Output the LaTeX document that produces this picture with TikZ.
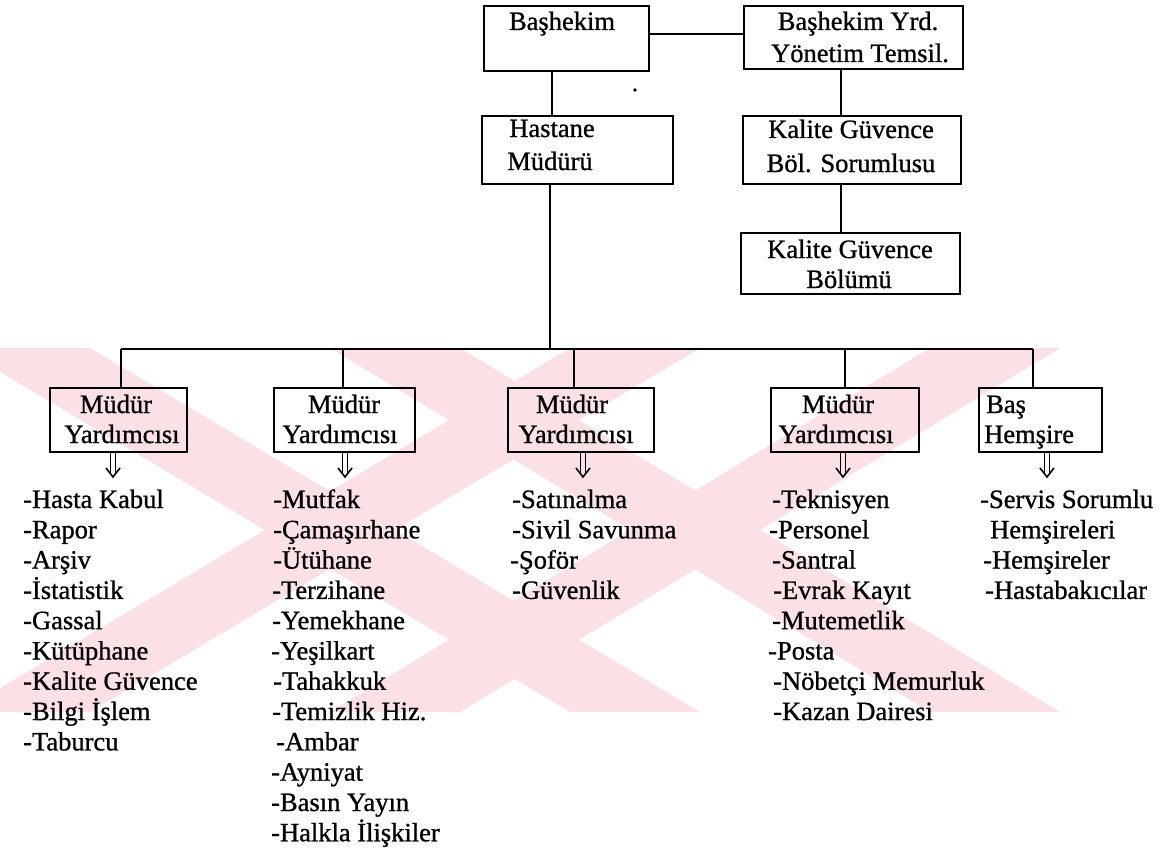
\documentclass[tikz,border=0pt]{standalone}
\usepackage{fontspec}
\setmainfont{Liberation Serif}[FakeBold=0.9]
\definecolor{wmpink}{HTML}{FBE1E5}
\begin{document}
\begin{tikzpicture}[x=1pt,y=-1pt,
  every node/.style={font=\fontsize{26.5}{30}\selectfont, inner sep=0pt},
  box/.style={draw, line width=1.7pt, anchor=north west},
  txt/.style={anchor=base},
  item/.style={anchor=base west},
  link/.style={line width=1.7pt},
  dnarrow/.pic={
    \draw[line width=1.6pt] (-2.6,-12) -- (-2.6,7.5) (2.6,-12) -- (2.6,7.5);
    \draw[line width=1.6pt, line join=miter] (-7,3) -- (0,12) -- (7,3);
  }]
\useasboundingbox (0,0) rectangle (1169,856);

% faint background marks
\begin{scope}
\clip (0,348) rectangle (1169,712);
\fill[wmpink] (-40,348) -- (90,348) -- (700,712) -- (570,712) -- cycle;
\fill[wmpink] (570,348) -- (700,348) -- (90,712) -- (-40,712) -- cycle;
\fill[wmpink] (330,348) -- (460,348) -- (1060,712) -- (930,712) -- cycle;
\fill[wmpink] (930,348) -- (1060,348) -- (460,712) -- (330,712) -- cycle;
\end{scope}

% top management boxes
\node[box, minimum width=165, minimum height=65] (bas) at (483,5) {};
\node[box, minimum width=219, minimum height=63] (yrd) at (743,5) {};
\node[box, minimum width=191, minimum height=68] (hm) at (481,115) {};
\node[box, minimum width=218, minimum height=68] (kgs) at (742,115) {};
\node[box, minimum width=219, minimum height=61] (kgb) at (740,232) {};

\node[txt] (tbas) at (562,30) {Başhekim};
\node[txt] (tyrd1) at (858,30) {Başhekim Yrd.};
\node[txt] (tyrd2) at (860,62) {Yönetim Temsil.};
\node[txt] (thm1) at (552,137) {Hastane};
\node[txt] (thm2) at (550,170) {Müdürü};
\node[txt] (tkgs1) at (851,138) {Kalite Güvence};
\node[txt] (tkgs2) at (851,172) {Böl. Sorumlusu};
\node[txt] (tkgb1) at (850,258) {Kalite Güvence};
\node[txt] (tkgb2) at (849,288) {Bölümü};

\fill (635,90) circle (1.8);

% vertical guides for the connectors
\coordinate (vbas) at (552,0);
\coordinate (vyrd) at (841,0);
\coordinate (vhm) at (550,0);
\coordinate (busL) at (121,349);
\coordinate (busR) at (1033,349);
\coordinate (d1) at (121,0);
\coordinate (d2) at (343,0);
\coordinate (d3) at (574,0);
\coordinate (d4) at (845,0);
\coordinate (d5) at (1033,0);

\draw[link] ([yshift=4pt]bas.east) -- ([yshift=4pt]bas.east -| yrd.west);
\draw[link] (bas.south -| vbas) -- (hm.north -| vbas);
\draw[link] (yrd.south -| vyrd) -- (kgs.north -| vyrd);
\draw[link] (kgs.south -| vyrd) -- (kgb.north -| vyrd);
\draw[link] (hm.south -| vhm) -- (vhm |- busL);
\draw[link] (busL) -- (busR);

% deputy boxes
\node[box, minimum width=137, minimum height=64] (m1) at (49,387) {};
\node[box, minimum width=141, minimum height=64] (m2) at (273,387) {};
\node[box, minimum width=146, minimum height=64] (m3) at (507,387) {};
\node[box, minimum width=148, minimum height=64] (m4) at (770,387) {};
\node[box, minimum width=123, minimum height=64] (m5) at (978,387) {};

\draw[link] (d1 |- busL) -- (d1 |- m1.north);
\draw[link] (d2 |- busL) -- (d2 |- m2.north);
\draw[link] (d3 |- busL) -- (d3 |- m3.north);
\draw[link] (d4 |- busL) -- (d4 |- m4.north);
\draw[link] (d5 |- busL) -- (d5 |- m5.north);

\node[txt] (tm1a) at (116,413) {Müdür};
\node[txt] (tm1b) at (122,443) {Yardımcısı};
\node[txt] (tm2a) at (344,413) {Müdür};
\node[txt] (tm2b) at (340,443) {Yardımcısı};
\node[txt] (tm3a) at (572,413) {Müdür};
\node[txt] (tm3b) at (576,443) {Yardımcısı};
\node[txt] (tm4a) at (838,413) {Müdür};
\node[txt] (tm4b) at (836,443) {Yardımcısı};
\node[item] (tm5a) at (986,413) {Baş};
\node[item] (tm5b) at (984,443) {Hemşire};

% down arrows under each box
\pic at (113,465) {dnarrow};
\pic at (345,465) {dnarrow};
\pic at (583,465) {dnarrow};
\pic at (843,465) {dnarrow};
\pic at (1047,465) {dnarrow};

% unit lists
\foreach [count=\i from 0] \x/\t in {23/-Hasta Kabul, 23/-Rapor, 23/-Arşiv,
  23/-İstatistik, 23/-Gassal, 23/-Kütüphane, 23/-Kalite Güvence,
  23/-Bilgi İşlem, 23/-Taburcu}
  \node[item] (la\i) at (\x,{508+30.3*\i}) {\t};
\foreach [count=\i from 0] \x/\t in {273/-Mutfak, 273/-Çamaşırhane,
  273/-Ütühane, 272/-Terzihane, 272/-Yemekhane, 271/-Yeşilkart,
  273/-Tahakkuk, 272/-Temizlik Hiz., 276/-Ambar, 271/-Ayniyat,
  271/-Basın Yayın, 271/-Halkla İlişkiler}
  \node[item] (lb\i) at (\x,{508+30.3*\i}) {\t};
\foreach [count=\i from 0] \x/\t in {512/-Satınalma, 512/-Sivil Savunma,
  510/-Şoför, 512/-Güvenlik}
  \node[item] (lc\i) at (\x,{508+30.3*\i}) {\t};
\foreach [count=\i from 0] \x/\t in {772/-Teknisyen, 769/-Personel,
  772/-Santral, 773/-Evrak Kayıt, 772/-Mutemetlik, 768/-Posta,
  773/-Nöbetçi Memurluk, 773/-Kazan Dairesi}
  \node[item] (ld\i) at (\x,{508+30.3*\i}) {\t};
\foreach [count=\i from 0] \x/\t in {980/-Servis Sorumlu, 990/Hemşireleri,
  983/-Hemşireler, 985/-Hastabakıcılar}
  \node[item] (le\i) at (\x,{508+30.3*\i}) {\t};
\end{tikzpicture}
\end{document}
